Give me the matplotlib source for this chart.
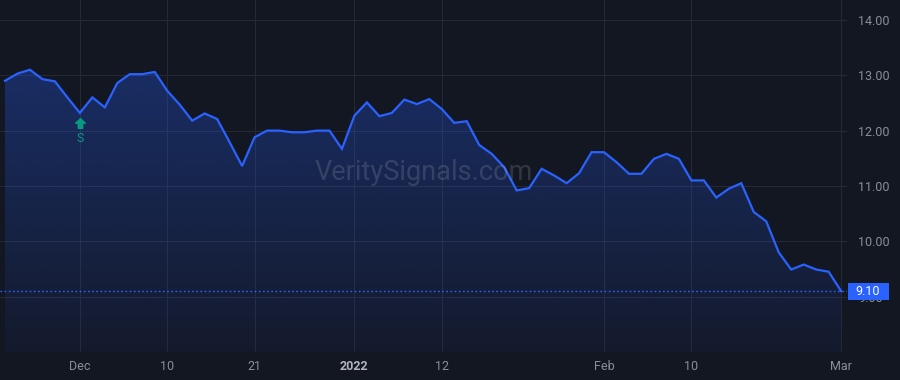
import numpy as np
import pandas as pd
import matplotlib
matplotlib.use('Agg')
import matplotlib.pyplot as plt
from matplotlib.path import Path
from matplotlib.patches import Rectangle
import matplotlib.transforms as mtransforms
from matplotlib.colors import to_rgb

# ---- data ----
holidays = ['2021-11-25', '2021-12-24', '2022-01-17', '2022-02-21']
dates = pd.bdate_range('2021-11-22', '2022-03-01', freq='C', holidays=holidays)
prices = [12.90, 13.03, 13.10, 12.93, 12.89, 12.60, 12.32, 12.60, 12.42, 12.86,
          13.02, 13.02, 13.06, 12.72, 12.47, 12.18, 12.31, 12.21, 11.79, 11.36,
          11.88, 12.00, 12.00, 11.97, 11.97, 12.00, 12.00, 11.67, 12.27, 12.51,
          12.26, 12.32, 12.56, 12.48, 12.57, 12.39, 12.14, 12.17, 11.74, 11.58,
          11.34, 10.92, 10.96, 11.31, 11.19, 11.05, 11.23, 11.61, 11.61, 11.43,
          11.22, 11.22, 11.49, 11.58, 11.49, 11.10, 11.10, 10.79, 10.95, 11.05,
          10.53, 10.36, 9.80, 9.49, 9.58, 9.49, 9.45, 9.10]
tick_dates = ['2021-12-01', '2021-12-10', '2021-12-21', '2022-01-03',
              '2022-01-12', '2022-02-01', '2022-02-10', '2022-03-01']
tick_labels = ['Dec', '10', '21', '2022', '12', 'Feb', '10', 'Mar']
y_ticks = [9, 10, 11, 12, 13, 14]
signal_date = '2021-12-01'
signal_label = 'S'
watermark = 'VeritySignals.com'

n = min(len(dates), len(prices))
x = np.arange(n)
prices = np.array(prices[:n])
tick_pos = [dates.get_loc(pd.Timestamp(d)) for d in tick_dates]
sig_i = dates.get_loc(pd.Timestamp(signal_date))
last_price = prices[-1]

BG = '#131722'
GRID = '#252934'
BLUE = '#2962ff'
TXT = '#8b8e98'
TEAL = '#089981'

plt.rcParams['font.family'] = ['Roboto', 'DejaVu Sans']

fig = plt.figure(figsize=(9, 3.8), dpi=100, facecolor=BG)
W, H = 900, 380
ax = fig.add_axes([0, 1 - 352 / H, 847 / W, 352 / H])
ax.set_facecolor(BG)

ymin, ymax = 8.0, 14.36
xmin, xmax = -0.40, 67.47

# gradient fill
fill = ax.fill_between(x, prices, ymin, facecolor='none', edgecolor='none')
rgb = to_rgb(BLUE)
nrow = 256
img = np.zeros((nrow, 1, 4))
img[:, 0, 0], img[:, 0, 1], img[:, 0, 2] = rgb
img[:, 0, 3] = np.linspace(0.05, 0.30, nrow)
im = ax.imshow(img, extent=[xmin, xmax, ymin, prices.max()], origin='lower',
               aspect='auto', zorder=1, interpolation='bilinear')
im.set_clip_path(fill.get_paths()[0], transform=ax.transData)

ax.plot(x, prices, color=BLUE, lw=1.6, zorder=3, solid_joinstyle='miter')

# last price dotted line
ax.axhline(last_price, color=BLUE, lw=1.0, ls=(0, (1.2, 1.8)), zorder=2)

ax.set_xlim(xmin, xmax)
ax.set_ylim(ymin, ymax)

ax.set_xticks(tick_pos)
ax.set_xticklabels(tick_labels)
ax.set_yticks(y_ticks)
ax.set_yticklabels([f'{v:.2f}' for v in y_ticks])
ax.yaxis.tick_right()
ax.tick_params(axis='both', length=0, colors=TXT, labelsize=9)
ax.tick_params(axis='x', pad=6.0)
ax.tick_params(axis='y', pad=8.0)
for lbl in ax.get_xticklabels():
    if lbl.get_text() == '2022':
        lbl.set_fontweight('bold')
        lbl.set_color('#b2b5be')
ax.grid(True, color=GRID, lw=0.8)
ax.set_axisbelow(True)
for s in ax.spines.values():
    s.set_visible(False)

# watermark
ax.text(0.5, 0.51, watermark, transform=ax.transAxes, ha='center', va='center',
        fontsize=19.5, color='#b2b5be', alpha=0.2, zorder=4)

# signal marker
arrow = Path([(0, 1), (1, 0.05), (0.45, 0.05), (0.45, -1), (-0.45, -1),
              (-0.45, 0.05), (-1, 0.05), (0, 1)],
             [Path.MOVETO] + [Path.LINETO] * 6 + [Path.CLOSEPOLY])
off_arrow = mtransforms.offset_copy(ax.transData, fig=fig, x=0, y=-7.5, units='points')
ax.plot([sig_i], [prices[sig_i]], marker=arrow, ms=7, color=TEAL, mec=TEAL,
        ls='none', transform=off_arrow, zorder=5)
off_s = mtransforms.offset_copy(ax.transData, fig=fig, x=0, y=-18.5, units='points')
ax.text(sig_i, prices[sig_i], signal_label, transform=off_s, ha='center',
        va='center', fontsize=8.8, color=TEAL, zorder=5)

# price label box
bt = mtransforms.blended_transform_factory(fig.transFigure, ax.transData)
box_h = 17 / 55.4
ax.add_patch(Rectangle((847.5 / W, last_price - box_h / 2), 41 / W, box_h,
                       transform=bt, facecolor=BLUE, edgecolor='none',
                       clip_on=False, zorder=10))
ax.text(868 / W, last_price, f'{last_price:.2f}', transform=bt, ha='center',
        va='center', fontsize=9, color='white', zorder=11, clip_on=False)

fig.savefig('out.png', dpi=100, facecolor=BG)
